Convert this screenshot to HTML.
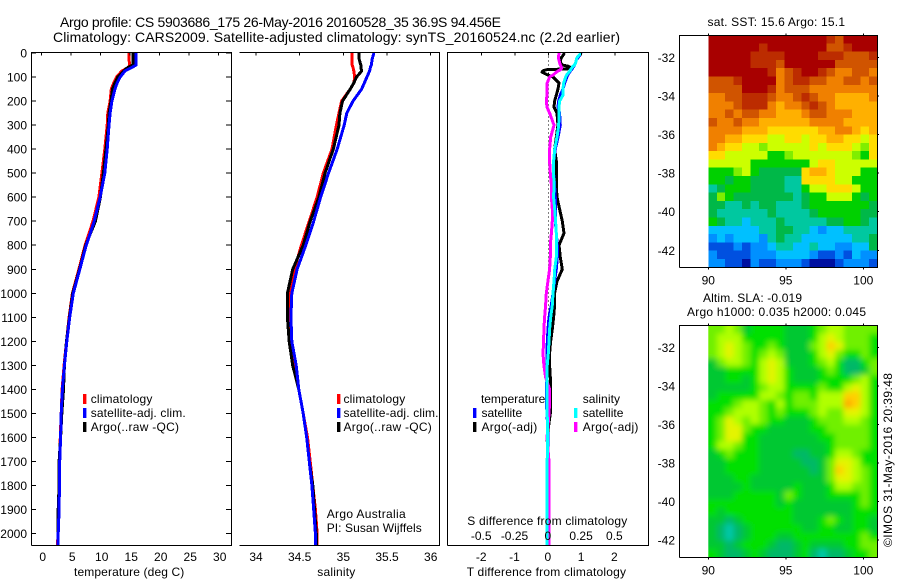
<!DOCTYPE html>
<html>
<head>
<meta charset="utf-8">
<title>Argo profile</title>
<style>
html,body{margin:0;padding:0;background:#fff;}
svg{display:block;}
text{font-family:"Liberation Sans",sans-serif;font-size:12px;fill:#000;}
.t14{font-size:14px;}
.line{fill:none;stroke-width:3;shape-rendering:crispEdges;stroke-linejoin:round;}
.ax{stroke:#000;stroke-width:1;fill:none;shape-rendering:crispEdges;}
</style>
</head>
<body>
<svg id="chart" xmlns="http://www.w3.org/2000/svg" width="900" height="580" viewBox="0 0 900 580">
  <defs>
    <clipPath id="slaClip"><rect x="708.3" y="325.3" width="169" height="232"/></clipPath>
    <filter id="slaBlur" x="-10%" y="-10%" width="120%" height="120%"><feGaussianBlur stdDeviation="3"/></filter>
  </defs>
  <text class="t14" x="60" y="27" textLength="441">Argo profile: CS 5903686_175 26-May-2016 20160528_35 36.9S 94.456E</text>
  <text class="t14" x="53" y="42" textLength="567">Climatology: CARS2009. Satellite-adjusted climatology: synTS_20160524.nc (2.2d earlier)</text>

  <g id="tempPanel"></g>
  <g id="salPanel"></g>
  <g id="diffPanel"></g>
  <g id="sstMap"></g>
  <g id="slaMap"></g>

  <text x="74" y="576" textLength="110.3">temperature (deg C)</text>
  <text x="317.3" y="576" textLength="38">salinity</text>
  <text x="466.7" y="576" textLength="159.3">T difference from climatology</text>
  <text x="467.3" y="525" textLength="160">S difference from climatology</text>

  <g>
    <rect x="83" y="394" width="3.4" height="10" fill="#f00"/>
    <text x="90.7" y="403" textLength="61.7">climatology</text>
    <rect x="83" y="408" width="3.4" height="10" fill="#00f"/>
    <text x="90.7" y="417" textLength="95">satellite-adj. clim.</text>
    <rect x="83" y="422" width="3.4" height="10" fill="#000"/>
    <text x="90.7" y="431" textLength="88.3">Argo(..raw -QC)</text>
  </g>
  <g>
    <rect x="337" y="394" width="3.4" height="10" fill="#f00"/>
    <text x="343.5" y="403" textLength="61.7">climatology</text>
    <rect x="337" y="408" width="3.4" height="10" fill="#00f"/>
    <text x="343.5" y="417" textLength="95">satellite-adj. clim.</text>
    <rect x="337" y="422" width="3.4" height="10" fill="#000"/>
    <text x="343.5" y="431" textLength="88.3">Argo(..raw -QC)</text>
  </g>
  <text x="326.7" y="518" textLength="79">Argo Australia</text>
  <text x="326.7" y="532" textLength="95">PI: Susan Wijffels</text>

  <g>
    <text x="481" y="403" textLength="64.3">temperature</text>
    <rect x="473" y="408" width="3.4" height="10" fill="#00f"/>
    <text x="481.5" y="417" textLength="40.7">satellite</text>
    <rect x="473" y="422" width="3.4" height="10" fill="#000"/>
    <text x="481.5" y="431" textLength="55.7">Argo(-adj)</text>
    <text x="582.7" y="403" textLength="37.3">salinity</text>
    <rect x="574" y="408" width="3.4" height="10" fill="#0ff"/>
    <text x="582.7" y="417" textLength="40.7">satellite</text>
    <rect x="574" y="422" width="3.4" height="10" fill="#f0f"/>
    <text x="582.7" y="431" textLength="55.7">Argo(-adj)</text>
  </g>

  <text x="707.5" y="26" textLength="137.5">sat. SST: 15.6 Argo: 15.1</text>
  <text x="703" y="302" textLength="99">Altim. SLA: -0.019</text>
  <text x="687" y="316" textLength="179">Argo h1000: 0.035 h2000: 0.045</text>
  <text transform="translate(892,547) rotate(-90)" textLength="174">©IMOS 31-May-2016 20:39:48</text>
</svg>
<script>
// ---- profile data ----
const profileDepth = [0,25,50,60,75,100,125,150,200,250,300,400,500,600,700,800,900,1000,1100,1200,1300,1400,1500,1600,1700,1800,1900,2000,2050];
const tempClim = [14.8,14.8,14.9,14.7,13.6,12.7,12.2,11.8,11.6,11.2,11.1,10.7,10.2,9.7,8.7,7.35,6.3,5.2,4.65,4.2,3.8,3.45,3.3,3.15,3.0,2.95,2.85,2.75,2.7];
const tempArgo = [15.5,15.5,15.5,14.6,13.9,12.9,12.4,12.0,11.75,11.4,11.3,10.9,10.45,9.95,9.1,7.45,6.4,5.25,4.7,4.2,3.85,3.7,3.4,3.2,2.95,2.95,2.8,2.8,2.8];
const tempSat = [16.0,16.0,16.0,15.3,14.1,13.3,12.8,12.4,11.9,11.6,11.4,11.1,10.7,9.9,8.9,7.55,6.45,5.35,4.75,4.25,3.85,3.5,3.3,3.2,3.05,3.0,2.95,2.8,2.8];
const salClim = [35.10,35.10,35.10,35.11,35.12,35.13,35.12,35.08,34.98,34.95,34.92,34.87,34.77,34.70,34.61,34.52,34.44,34.38,34.38,34.39,34.43,34.49,34.54,34.59,34.62,34.65,34.68,34.70,34.70];
const salArgo = [35.18,35.18,35.20,35.20,35.21,35.15,35.12,35.08,34.99,34.96,34.95,34.885,34.79,34.72,34.62,34.54,34.42,34.36,34.36,34.38,34.42,34.49,34.54,34.58,34.61,34.65,34.67,34.69,34.69];
const salSat = [35.35,35.33,35.32,35.31,35.30,35.27,35.24,35.21,35.11,35.04,35.01,34.93,34.83,34.74,34.66,34.57,34.47,34.41,34.40,34.41,34.46,34.49,34.54,34.58,34.61,34.64,34.66,34.68,34.68];

const diffDepth = [0,10,20,30,40,50,55,60,65,70,75,80,90,100,125,150,175,200,225,250,300,350,400,450,500,550,600,650,700,750,800,850,900,950,1000,1050,1100,1150,1200,1250,1300,1350,1400,1450,1500,1600,1700,1800,1900,2000,2050];
const diffTArgo = [.49,.44,.39,.36,.36,.42,.59,.66,.69,-.08,-.16,-.19,-.04,.14,.32,.29,.24,.19,.17,.26,.29,.24,.19,.24,.24,.24,.26,.34,.42,.47,.32,.36,.42,.26,.19,.19,.16,.12,.07,.04,.04,.06,.06,.06,.06,-.04,.01,0,0,-.01,-.01];
const diffTSat = [.99,.94,.89,.84,.82,.79,.77,.74,.72,.69,.66,.64,.59,.56,.49,.44,.36,.31,.29,.34,.36,.29,.21,.16,.16,.19,.21,.21,.21,.24,.27,.27,.24,.19,.14,.09,.02,-.01,-.03,-.04,-.04,-.04,-.06,-.06,-.04,-.01,0,0,0,0,0];
const diffSArgo = [.08,.078,.075,.08,.085,.09,.095,.098,.098,.09,.073,.06,.04,.01,-.008,-.01,-.01,-.015,-.01,.01,.043,.018,.01,.01,.015,.023,.023,.03,.03,.023,.015,.015,.01,-.003,-.015,-.02,-.028,-.033,-.035,-.04,-.033,-.02,.01,.01,.005,-.01,.005,.005,.005,.005,.005];
const diffSSat = [.248,.23,.215,.21,.205,.198,.185,.18,.172,.168,.16,.155,.14,.13,.115,.11,.11,.085,.08,.08,.078,.065,.048,.04,.04,.043,.04,.048,.055,.06,.06,.06,.048,.043,.035,.03,.018,.01,.005,0,-.008,-.01,-.01,-.01,-.008,-.005,-.008,-.01,-.008,-.008,-.008];

// ---- tick labels ----
const depthTicks = [0,100,200,300,400,500,600,700,800,900,1000,1100,1200,1300,1400,1500,1600,1700,1800,1900,2000];
const tempTicks = [0,5,10,15,20,25,30];
const salTicks = [34,34.5,35,35.5,36];
const tDiffTicks = [-2,-1,0,1,2];
const sDiffTicks = [-0.5,-0.25,0,0.25,0.5];
const lonTicks = [90,95,100];
const latTicks = [-32,-34,-36,-38,-40,-42];

// ---- SST map: colour-bin index of each grid cell (north to south) ----
const sstPalette = ['#a80000','#bc2c00','#d05400','#f08000','#ffb000','#ffdc00','#ccff00','#80ee00','#00d000','#00b848','#00c8a0','#00c0ff','#0090ff','#0050e0','#0010a0'];
const sstBins = [
[0,0,0,0,0,0,0,0,0,0,0,0,0,0,1,2,0,0,0,0],
[0,0,0,0,0,0,1,0,0,0,0,0,0,0,2,2,1,0,0,0],
[0,0,0,0,0,1,1,1,1,0,0,0,0,1,1,1,2,2,2,1],
[0,0,0,0,0,1,1,1,2,0,0,0,0,0,0,2,2,2,2,2],
[0,0,0,0,0,0,0,1,3,2,1,0,0,1,2,3,3,2,2,3],
[2,2,2,1,0,0,0,0,3,2,1,1,2,2,3,3,2,2,3,2],
[2,2,2,2,0,0,0,1,3,2,2,2,3,3,3,3,3,3,3,3],
[3,3,2,2,1,1,1,2,3,3,2,1,2,3,3,4,4,4,4,3],
[3,3,3,2,1,1,1,3,4,3,3,2,1,2,3,4,4,4,4,4],
[3,3,2,3,2,2,3,3,4,4,4,3,2,2,3,3,3,4,4,4],
[2,3,3,2,3,3,4,4,4,4,4,4,3,3,3,3,4,4,4,4],
[3,3,3,3,4,4,4,5,5,5,5,5,5,4,4,3,3,4,5,4],
[3,3,4,4,5,5,5,6,6,5,5,6,5,5,4,4,5,5,6,5],
[3,4,5,5,6,6,7,6,6,6,6,6,5,6,5,5,5,6,7,5],
[5,5,6,6,6,6,6,8,8,7,6,6,6,6,6,6,6,7,8,5],
[6,6,6,6,6,8,8,8,8,8,8,8,6,5,5,6,6,6,6,6],
[8,8,8,7,6,8,9,9,9,9,9,5,4,4,5,6,6,6,8,8],
[8,8,9,8,8,9,9,9,9,10,10,5,5,5,5,6,6,8,8,8],
[10,9,8,8,8,9,9,9,9,10,10,8,6,6,5,5,5,6,8,8],
[9,7,8,9,9,9,9,9,9,9,10,9,8,8,6,6,6,8,9,8],
[9,9,10,10,9,10,9,9,10,10,10,9,8,8,8,8,8,8,8,9],
[9,10,10,10,10,10,10,9,10,10,10,10,9,8,8,8,8,8,9,9],
[8,9,10,10,11,10,10,10,9,10,10,10,10,10,9,9,8,8,9,10],
[11,11,11,11,11,11,10,10,9,9,10,10,11,12,11,11,10,10,10,10],
[12,11,12,11,11,11,12,10,9,10,10,11,11,11,11,11,11,10,10,9],
[13,13,13,12,13,12,12,11,10,10,11,11,10,11,11,12,12,11,11,9],
[12,13,13,13,13,12,12,12,11,11,11,11,12,13,13,12,13,11,12,12],
[12,12,13,13,14,12,13,13,12,12,12,13,14,14,14,13,12,12,12,13]
];

// ---- SLA map: colour-bin index of each grid cell (north to south) ----
const slaPalette = ['#00c8a8','#00b868','#00c830','#00e000','#70f000','#b0ff00','#e4f400','#ffd000','#ffa800'];
const slaBins = [
[4,4,5,4,2,3,3,3,3,2,2,2,3,4,5,5,4,4,4,4],
[4,5,5,5,3,3,3,3,3,2,2,2,3,5,6,5,4,4,4,3],
[4,5,6,5,4,3,3,4,3,2,2,2,4,5,7,6,4,4,4,3],
[4,5,6,5,4,3,4,5,4,2,2,2,3,5,6,4,3,3,4,3],
[2,4,5,5,4,3,5,6,5,2,2,2,3,4,5,3,1,1,3,4],
[2,2,3,3,3,3,5,6,5,3,2,2,2,3,4,3,1,1,2,4],
[2,2,3,3,2,3,5,6,5,3,2,2,2,3,3,3,3,4,5,3],
[2,2,2,2,2,3,4,5,5,3,3,3,3,4,3,3,5,6,5,3],
[2,3,3,3,3,3,5,5,4,3,4,4,3,5,5,5,7,7,5,3],
[3,3,3,4,5,5,4,3,5,3,4,4,4,5,5,5,8,7,5,3],
[3,3,4,5,5,5,4,3,4,3,3,3,4,5,4,4,6,6,5,3],
[3,4,6,5,4,5,4,3,3,2,2,2,3,4,4,4,5,5,4,3],
[3,4,6,6,4,3,3,2,2,2,2,2,3,3,4,4,4,4,4,3],
[3,4,6,6,3,3,2,2,2,2,2,2,2,3,3,4,4,4,4,3],
[3,5,5,4,3,3,2,2,2,2,2,2,2,2,3,4,4,4,4,3],
[2,3,4,3,3,3,2,2,2,2,1,1,2,2,3,5,5,4,3,3],
[2,2,3,3,3,3,2,2,2,2,2,1,1,2,4,6,6,5,3,3],
[2,2,3,3,3,3,2,2,2,2,2,2,1,2,4,7,6,5,4,3],
[2,2,2,3,3,2,2,2,2,2,2,2,2,2,4,6,6,5,4,3],
[2,2,2,2,3,2,2,2,2,2,3,2,2,2,3,5,5,4,4,3],
[2,2,2,3,3,3,3,3,2,4,3,2,2,2,3,3,3,3,4,3],
[3,3,3,3,3,3,3,3,2,3,2,2,2,2,2,2,2,3,4,3],
[3,2,3,3,3,3,3,3,3,3,2,2,2,2,2,2,2,3,3,3],
[2,2,1,2,3,3,3,3,3,3,2,2,2,3,4,3,2,3,3,2],
[2,1,0,1,2,3,3,3,3,3,3,2,2,3,3,2,2,3,3,2],
[2,1,0,1,2,3,3,3,2,2,3,3,3,3,3,3,3,3,4,3],
[2,2,1,2,3,3,3,2,1,1,2,3,2,2,2,2,3,3,4,4],
[3,2,1,1,2,3,2,1,1,1,2,3,1,0,1,1,2,3,3,4]
];

// ---- axis functions ----
const NS = 'http://www.w3.org/2000/svg';
const TOP = 52.5, BOTTOM = 545.5;
function yDepth(d){ return 53 + 0.2403 * d; }
function xTemp(t){ return 41.7 + 5.9 * t; }
function xSal(s){ return 256 + 87.35 * (s - 34); }
function xTDiff(t){ return 548.3 + 33.3 * t; }
function xSDiff(s){ return 548.3 + 133.2 * s; }
function lonX(lon){ return 708.3 + 15.5 * (lon - 90); }
function latY1(lat){ return 57.3 + 19.3 * (-32 - lat); }
function latY2(lat){ return 347.3 + 19.27 * (-32 - lat); }

function mk(parent, tag, attrs, text){
  const el = document.createElementNS(NS, tag);
  for (const k in attrs) el.setAttribute(k, attrs[k]);
  if (text !== undefined) el.textContent = text;
  parent.appendChild(el);
  return el;
}
function seg(parent, x1, y1, x2, y2){
  const l = mk(parent, 'line', {x1:x1, y1:y1, x2:x2, y2:y2, 'class':'ax'});
  
  
  return l;
}
function label(parent, x, y, str, anchor){
  const t = mk(parent, 'text', {x:x, y:y, 'text-anchor':anchor}, str);
  
  
  return t;
}
function series(parent, depths, values, xf, color, name){
  const d = values.map((v, i) => (i ? 'L' : 'M') + xf(v).toFixed(1) + ' ' + yDepth(depths[i]).toFixed(1)).join('');
  const p = mk(parent, 'path', {d:d, 'class':'line', stroke:color});
  
  
  return p;
}
function frame(parent, x0, x1, y0, y1, left){
  const d = (left ? 'M' + x0 + ' ' + y1 + 'L' + x0 + ' ' + y0 : 'M' + x0 + ' ' + y0) + 'L' + x1 + ' ' + y0 + 'L' + x1 + ' ' + y1 + 'L' + x0 + ' ' + y1;
  const p = mk(parent, 'path', {d:d, 'class':'ax'});
  
  
}

// ---- temperature panel ----
const tempG = document.getElementById('tempPanel');
series(tempG, profileDepth, tempClim, xTemp, '#f00', 'temperature-climatology-line');
series(tempG, profileDepth, tempArgo, xTemp, '#000', 'temperature-argo-line');
series(tempG, profileDepth, tempSat, xTemp, '#00f', 'temperature-satellite-line');
frame(tempG, 31.5, 231.5, TOP, BOTTOM, true);
depthTicks.forEach(d => {
  seg(tempG, 31.5, yDepth(d), 36, yDepth(d));
  seg(tempG, 226, yDepth(d), 231.5, yDepth(d));
  label(tempG, 27, yDepth(d) + 4.5, String(d), 'end');
});
tempTicks.forEach(t => {
  seg(tempG, xTemp(t), TOP, xTemp(t), TOP + 3);
  label(tempG, xTemp(t) + 1, 561, String(t), 'middle');
});

// ---- salinity panel ----
const salG = document.getElementById('salPanel');
series(salG, profileDepth, salClim, xSal, '#f00', 'salinity-climatology-line');
series(salG, profileDepth, salArgo, xSal, '#000', 'salinity-argo-line');
series(salG, profileDepth, salSat, xSal, '#00f', 'salinity-satellite-line');
frame(salG, 239.5, 439.5, TOP, BOTTOM, false);
salTicks.forEach(s => {
  seg(salG, xSal(s), TOP, xSal(s), TOP + 3);
  label(salG, xSal(s), 561, String(s), 'middle');
});

// ---- difference panel ----
const diffG = document.getElementById('diffPanel');
const zeroLine = mk(diffG, 'line', {x1:xTDiff(0), y1:TOP, x2:xTDiff(0), y2:BOTTOM, stroke:'#000', 'stroke-width':1, 'stroke-dasharray':'1 3', 'shape-rendering':'crispEdges'});


series(diffG, diffDepth, diffTArgo, xTDiff, '#000', 'diff-t-argo-line');
series(diffG, diffDepth, diffTSat, xTDiff, '#00f', 'diff-t-satellite-line');
series(diffG, diffDepth, diffSArgo, xSDiff, '#f0f', 'diff-s-argo-line');
series(diffG, diffDepth, diffSSat, xSDiff, '#0ff', 'diff-s-satellite-line');
frame(diffG, 447.5, 648.5, TOP, BOTTOM, true);
tDiffTicks.forEach(t => {
  seg(diffG, xTDiff(t), TOP, xTDiff(t), TOP + 3);
  label(diffG, xTDiff(t) - 0.5, 561, String(t), 'middle');
});
sDiffTicks.forEach(s => {
  label(diffG, xSDiff(s) - 0.5, 540, String(s), 'middle');
});

// ---- maps ----
function drawCells(parent, bins, palette, x0, x1, y0, y1, bleed, name){
  const rows = bins.length, cols = bins[0].length;
  const w = (x1 - x0) / cols, h = (y1 - y0) / rows;
  bins.forEach((row, r) => row.forEach((v, c) => {
    let x = x0 + c * w, y = y0 + r * h, cw = w + 0.5, ch = h + 0.5;
    if (bleed) {
      if (c === 0) { x -= 12; cw += 12; }
      if (c === cols - 1) cw += 12;
      if (r === 0) { y -= 12; ch += 12; }
      if (r === rows - 1) ch += 12;
    }
    const cell = mk(parent, 'rect', {x:x.toFixed(2), y:y.toFixed(2), width:cw.toFixed(2), height:ch.toFixed(2), fill:palette[v], 'shape-rendering':'crispEdges'});
    
    
  }));
}
function mapAxes(parent, y0, y1, latF){
  frame(parent, 679.5, 877.5, y0, y1, true);
  lonTicks.forEach(lon => {
    seg(parent, lonX(lon), y0 - 2, lonX(lon), y0);
    seg(parent, lonX(lon), y1, lonX(lon), y1 + 2);
    label(parent, lonX(lon), y1 + 17, String(lon), 'middle');
  });
  latTicks.forEach(lat => {
    seg(parent, 877.5, latF(lat), 879, latF(lat));
    label(parent, 675, latF(lat) + 4.5, String(lat), 'end');
  });
}
const sstG = document.getElementById('sstMap');
drawCells(sstG, sstBins, sstPalette, 708.3, 877.3, 35, 267.3, false, 'sst-cell');
mapAxes(sstG, 35.5, 267.5, latY1);

const slaG = document.getElementById('slaMap');
const slaClipG = mk(slaG, 'g', {'clip-path':'url(#slaClip)'});


const slaBlurG = mk(slaClipG, 'g', {filter:'url(#slaBlur)'});


drawCells(slaBlurG, slaBins, slaPalette, 708.3, 877.3, 325.3, 557.3, true, 'sla-cell');
mapAxes(slaG, 325.5, 557.5, latY2);
</script>
</body>
</html>
